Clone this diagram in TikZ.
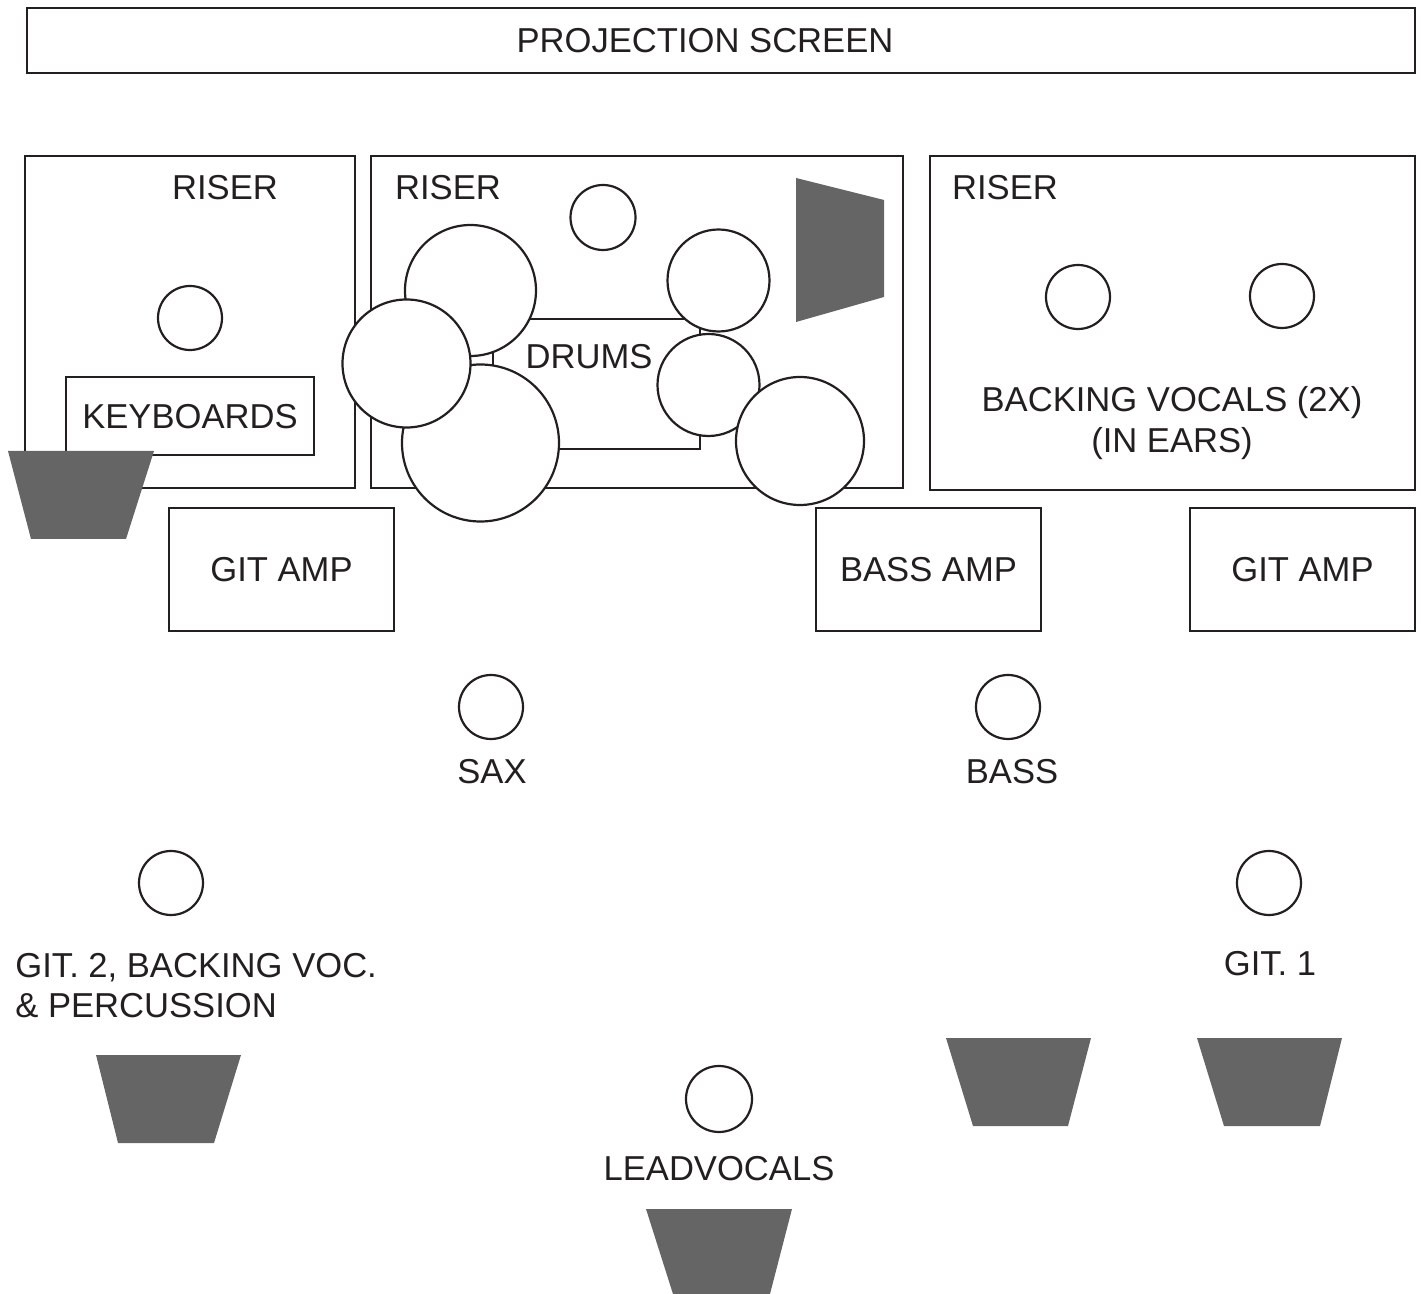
\documentclass[tikz,border=0pt]{standalone}
\usepackage{fontspec}
\setmainfont{Liberation Sans}
\definecolor{wedgegray}{HTML}{656565}
\definecolor{ink}{HTML}{231F20}
\begin{document}
\begin{tikzpicture}[x=0.5pt,y=-0.5pt,
  every node/.style={font=\fontsize{17.3}{20}\selectfont, text=ink},
  box/.style={draw=ink, line width=1.1pt, inner sep=0pt, text height=12.3pt, text depth=0pt},
  spot/.style={circle, draw=ink, line width=1.1pt, fill=white, inner sep=0pt},
  lbl/.style={inner sep=0pt, text height=12.3pt, text depth=0pt},
  wedgefill/.style={fill=wedgegray}]
\useasboundingbox (0,0) rectangle (1421,1294);

% projection screen
\node[box, minimum width=694pt, minimum height=32.5pt] (screen) at (721,40.5) {};
\node[lbl] (screenlbl) at (705,40) {PROJECTION SCREEN};

% risers
\node[box, minimum width=165pt, minimum height=166pt] (riserL) at (190,322) {};
\node[box, minimum width=266pt, minimum height=166pt] (riserM) at (637,322) {};
\node[box, minimum width=242.5pt, minimum height=167pt] (riserR) at (1172.5,323) {};
\node[lbl] (riserLlbl) at (225,187) {RISER};
\node[lbl] (riserMlbl) at (448,187) {RISER};
\node[lbl] (riserRlbl) at (1005,187) {RISER};

% keyboards
\node[spot, minimum size=32pt] (keys) at (190,318) {};
\node[box, minimum width=124pt, minimum height=39pt] (keyboards) at (190,416) {KEYBOARDS};
\fill[wedgefill] (8,451) -- (154,451) -- (126,539) -- (31,539) -- cycle;

% drums
\node[box, minimum width=103.5pt, minimum height=65pt] (drumsbox) at (596.5,384) {};
\node[lbl] (drumslbl) at (589,356) {DRUMS};
\fill[wedgefill] (796,178) -- (884,200) -- (884,297) -- (796,322) -- cycle;
\node[spot, minimum size=32.5pt] (ride) at (603,217.5) {};
\node[spot, minimum size=65.5pt] (tomA) at (470.5,290.5) {};
\node[spot, minimum size=78.5pt] (floorA) at (480.5,443) {};
\node[spot, minimum size=64pt] (tomB) at (406.5,363.5) {};
\node[spot, minimum size=51pt] (tomC) at (718.5,280.5) {};
\node[spot, minimum size=51pt] (snare) at (708.5,385) {};
\node[spot, minimum size=64pt] (floorB) at (800,441) {};

% backing vocals
\node[spot, minimum size=32pt] (bv1) at (1078,297) {};
\node[spot, minimum size=32pt] (bv2) at (1282,296) {};
\node[lbl] (bvlbl1) at (1172,399) {BACKING VOCALS (2X)};
\node[lbl] (bvlbl2) at (1172,440) {(IN EARS)};

% amps
\node[box, minimum width=112.5pt, minimum height=61.5pt] (gitampL) at (281.5,569.5) {GIT AMP};
\node[box, minimum width=112.5pt, minimum height=61.5pt] (bassamp) at (928.5,569.5) {BASS AMP};
\node[box, minimum width=112.5pt, minimum height=61.5pt] (gitampR) at (1302.5,569.5) {GIT AMP};

% front line
\node[spot, minimum size=32pt] (sax) at (491,707) {};
\node[lbl] (saxlbl) at (492,771) {SAX};
\node[spot, minimum size=32pt] (bass) at (1008,707) {};
\node[lbl] (basslbl) at (1012,771) {BASS};

\node[spot, minimum size=32pt] (git2) at (171,883) {};
\node[lbl, anchor=west] (git2lbl1) at (15,965) {GIT. 2, BACKING VOC.};
\node[lbl, anchor=west] (git2lbl2) at (15,1005) {\& PERCUSSION};
\fill[wedgefill] (96,1055) -- (241,1055) -- (214,1143) -- (118,1143) -- cycle;

\node[spot, minimum size=32pt] (git1) at (1269,883) {};
\node[lbl] (git1lbl) at (1270,963) {GIT. 1};
\fill[wedgefill] (946,1038) -- (1091,1038) -- (1068,1126) -- (973,1126) -- cycle;
\fill[wedgefill] (1197,1038) -- (1342,1038) -- (1320,1126) -- (1224,1126) -- cycle;

\node[spot, minimum size=33pt] (lead) at (719,1099) {};
\node[lbl] (leadlbl) at (719,1168) {LEADVOCALS};
\fill[wedgefill] (646,1209) -- (792,1209) -- (770,1294) -- (673,1294) -- cycle;
\end{tikzpicture}
\end{document}
